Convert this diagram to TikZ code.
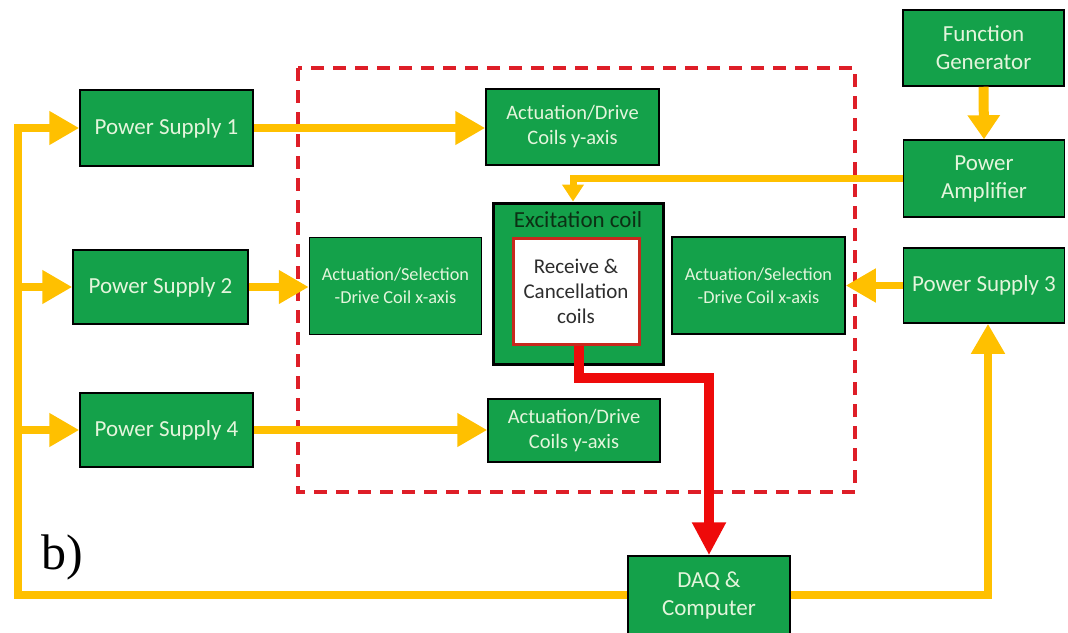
\documentclass[tikz,border=0pt]{standalone}
\usepackage{fontspec}
\setmainfont{Carlito}
\newfontfamily\bfam{Liberation Serif}
\usetikzlibrary{arrows.meta}
\pgfdeclarelayer{bg}
\pgfsetlayers{bg,main}
\definecolor{boxgreen}{RGB}{20,161,74}
\definecolor{boxtext}{RGB}{228,245,220}
\definecolor{orng}{RGB}{255,192,0}
\definecolor{dred}{RGB}{222,30,40}
\definecolor{tred}{RGB}{238,10,10}
\definecolor{exctext}{RGB}{12,48,20}
\definecolor{rctext}{RGB}{45,45,45}
\definecolor{rcborder}{RGB}{200,40,30}
\tikzset{
  gbox/.style={draw=black, line width=1.5pt, fill=boxgreen, text=boxtext, align=center, inner sep=0pt, font=\fontsize{23}{28}\selectfont},
  actbox/.style={gbox, font=\fontsize{20.5}{25}\selectfont},
  selbox/.style={gbox, font=\fontsize{18.3}{23}\selectfont},
  excbox/.style={draw=black, line width=3pt, fill=boxgreen, inner sep=0pt},
  rcbox/.style={draw=rcborder, line width=3pt, fill=white, text=rctext, align=center, inner sep=0pt, font=\fontsize{21}{25}\selectfont},
  dashbox/.style={draw=dred, line width=3.5pt, dash pattern=on 13pt off 9pt},
  orline/.style={draw=orng, line width=7.5pt, line join=miter},
  orarrow/.style={orline, -{Triangle[length=30pt,width=32pt]}},
  orsmall/.style={orline, line width=7pt, -{Triangle[length=17pt,width=21pt]}},
  orthick/.style={orline, line width=10pt, -{Triangle[length=24pt,width=31pt]}},
  redarrow/.style={draw=tred, line width=10pt, line join=miter, -{Triangle[length=33pt,width=32pt]}}
}
\begin{document}
\begin{tikzpicture}[x=1pt,y=-1pt]
\useasboundingbox (0,0) rectangle (1068,632);
% nodes
\node[gbox, minimum width=161pt, minimum height=76pt] (fg) at (983.5,48) {Function\\Generator};
\node[gbox, minimum width=161pt, minimum height=77pt] (pa) at (984,178.5) {Power\\Amplifier};
\node[gbox, minimum width=161pt, minimum height=75pt] (ps3) at (984,285.5) {Power Supply 3};
\node[gbox, minimum width=162pt, minimum height=78pt] (daq) at (709,595) {DAQ \&\\Computer};
\node[gbox, minimum width=173pt, minimum height=76pt] (ps1) at (166.5,128) {Power Supply 1};
\node[gbox, minimum width=175pt, minimum height=74pt] (ps2) at (160.5,287) {Power Supply 2};
\node[gbox, minimum width=173pt, minimum height=74pt] (ps4) at (166.5,430) {Power Supply 4};
\node[actbox, minimum width=173pt, minimum height=76pt] (ay1) at (572.5,127) {Actuation/Drive\\Coils y-axis};
\node[actbox, minimum width=172pt, minimum height=63pt] (ay2) at (574,430.5) {Actuation/Drive\\Coils y-axis};
\node[selbox, minimum width=172pt, minimum height=97pt] (asl) at (395.5,286) {Actuation/Selection\\-Drive Coil x-axis};
\node[selbox, minimum width=173pt, minimum height=97pt] (asr) at (758.5,285.5) {Actuation/Selection\\-Drive Coil x-axis};
\node[excbox, minimum width=170pt, minimum height=161pt] (exc) at (578,283.5) {};
\node[text=exctext, font=\fontsize{23}{28}\selectfont, inner sep=0pt] (exclabel) at (578,220) {Excitation coil};
\node[rcbox, minimum width=126pt, minimum height=106pt] (rc) at (576,291) {Receive \&\\Cancellation\\coils};
\node[font=\bfam\fontsize{50}{55}\selectfont, inner sep=0pt] (blabel) at (62,557) {b)};
% helper coordinates
\coordinate (L1) at (18,128);
\coordinate (L2) at (18,287);
\coordinate (L4) at (18,430);
\coordinate (rk) at (0,378);
\begin{pgfonlayer}{bg}
\draw[dashbox] (298,68) rectangle (855,492);
\draw[orline, line cap=rect] (L1) |- (daq.west);
\end{pgfonlayer}
% connectors
\draw[orarrow] (L1) -- (ps1.west);
\draw[orarrow] (L2) -- (ps2.west);
\draw[orarrow] (L4) -- (ps4.west);
\draw[orarrow] (ps1.east) -- (ps1.east -| ay1.west);
\draw[orarrow] (ps4.east) -- (ps4.east -| ay2.west);
\draw[orarrow] (ps2.east) -- (ps2.east -| asl.west);
\draw[orarrow] (ps3.west) -- (ps3.west -| asr.east);
\draw[orthick] (fg.south) -- (pa.north);
\draw[orsmall] (pa.west) -| ([xshift=-5pt]exc.north);
\draw[orarrow] (daq.east) -| ([xshift=4pt]ps3.south);
\draw[redarrow] ([xshift=3pt]rc.south) -- ([xshift=3pt]rc.south |- rk) -| (daq.north);
\end{tikzpicture}
\end{document}
